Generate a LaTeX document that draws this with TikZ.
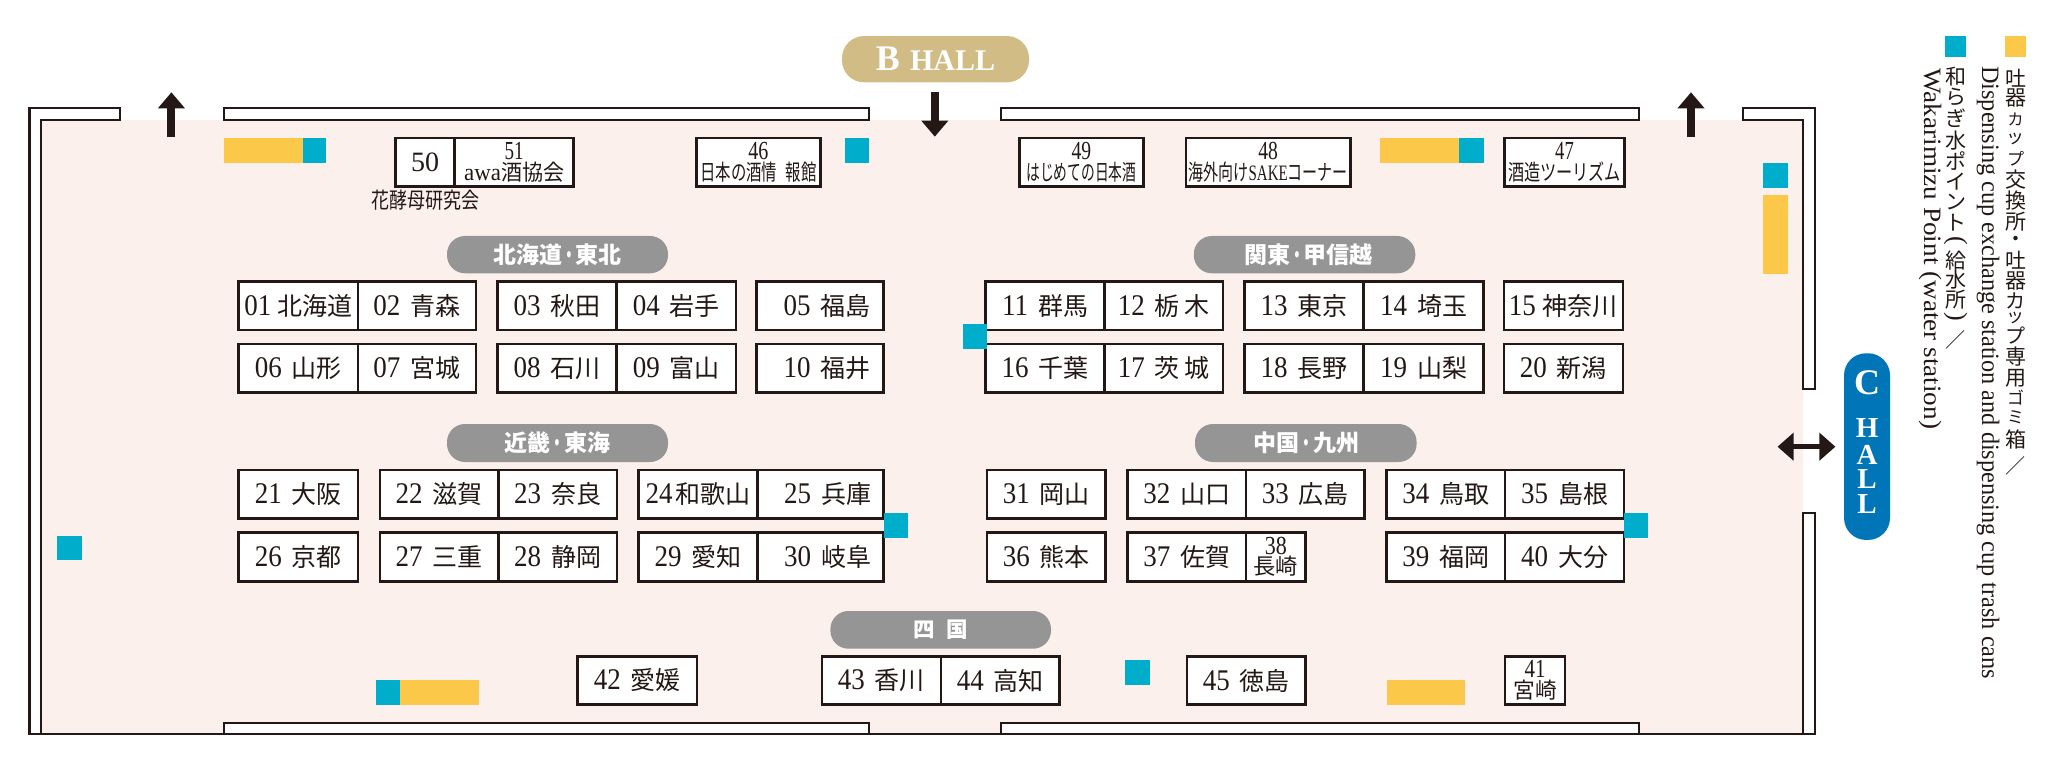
\documentclass[tikz,border=0pt]{standalone}
\usepackage{fontspec}
\usepackage{graphicx}
\usetikzlibrary{arrows.meta}
\setmainfont{Liberation Serif}
\newfontfamily\numfam[FakeStretch=0.9]{Liberation Serif}
\newfontfamily\cjkfam{Noto Sans CJK JP}
\definecolor{ink}{HTML}{231815}
\definecolor{floorpink}{HTML}{FCF0ED}
\definecolor{cupyellow}{HTML}{FCC84A}
\definecolor{waterteal}{HTML}{00AECB}
\definecolor{pillgrey}{HTML}{959595}
\definecolor{hallgold}{HTML}{D2BC85}
\definecolor{hallblue}{HTML}{0075B8}
% fonts
\newcommand\numf{\numfam\fontsize{30}{30}\selectfont}
\newcommand\kanf{\cjkfam\fontsize{25}{25}\selectfont}
\newcommand\numsm{\rmfamily\fontsize{26}{26}\selectfont}
\newcommand\kansm{\cjkfam\fontsize{22}{22}\selectfont}
% fit to a width, height untouched
\newcommand\fw[2]{\resizebox{#1pt}{\height}{#2}}
% one-line booth label
\newcommand\lb[3][10]{{\numf #2}\hspace{#1pt}{\kanf #3}}
% two-line booth label
\newcommand\tl[4]{{\fw{#1}{\numsm #2}}\\{#4}}
% a vertical stack row
\newcommand\vch[3]{\vbox to #1pt{\vss\hbox to 30pt{\hss\fontsize{#2}{#2}\selectfont #3\hss}\vss}}
% booth as node
\newcommand\bx[6]{%
  \pgfmathsetmacro\bw{#4-#2}\pgfmathsetmacro\bh{#5-#3}%
  \node[booth,minimum width=\bw pt,minimum height=\bh pt] (#1) at ({(#2+#4)/2},{(#3+#5)/2}) {#6};}
\newcommand\bxt[6]{%
  \pgfmathsetmacro\bw{#4-#2}\pgfmathsetmacro\bh{#5-#3}%
  \node[booth,boothtwo,minimum width=\bw pt,minimum height=\bh pt] (#1) at ({(#2+#4)/2},{(#3+#5)/2}) {#6};}
\newcommand\pl[6]{%
  \pgfmathsetmacro\bw{#4-#2}\pgfmathsetmacro\bh{#5-#3}%
  \node[regionpill,minimum width=\bw pt,minimum height=\bh pt] (#1) at ({(#2+#4)/2},{(#3+#5)/2}) {#6};}
\newcommand\sq[5]{\fill[#1] (#2,#3) rectangle (#4,#5);}
\newcommand\dotj{\scalebox{0.6}[1]{・}}
% rows
\def\ra{281.7}\def\rb{330}\def\rc{344}\def\rd{392.7}
\def\re{470}\def\rf{518.7}\def\rg{532.7}\def\rh{581.3}
\def\ri{656.3}\def\rj{704.7}\def\rt{138}\def\ru{186.7}
\tikzset{
  booth/.style={draw=ink,fill=white,line width=2.7pt,inner sep=0pt,outer sep=0pt,text=ink,anchor=center},
  boothtwo/.style={align=center,font=\fontsize{20}{20.5}\selectfont},
  wall/.style={draw=ink,line width=2.2pt,fill=white,line join=miter},
  regionpill/.style={fill=pillgrey,rounded corners=18pt,inner sep=0pt,text=white,font=\cjkfam\bfseries\fontsize{23}{23}\selectfont},
  hallarrow/.style={draw=ink,line width=8pt,-{Triangle[length=16pt,width=26pt,fill=ink]}},
  doublearrow/.style={draw=ink,line width=5pt,{Triangle[length=16pt,width=27pt,fill=ink]}-{Triangle[length=16pt,width=27pt,fill=ink]}},
}
\begin{document}
\begin{tikzpicture}[x=1pt,y=-1pt]
\useasboundingbox (0,0) rectangle (2049,775);
% floor
\fill[floorpink] (41,120) rectangle (1803,734);
% walls
\draw[wall] (119.6,120) -- (41,120) -- (41,734.3) -- (29.5,734.3) -- (29.5,108) -- (119.6,108) -- cycle;
\draw[wall] (223.7,108) rectangle (868.8,120);
\draw[wall] (1001.3,108) rectangle (1639.2,120);
\draw[wall] (1743,120) -- (1803,120) -- (1803,389.3) -- (1814.7,389.3) -- (1814.7,108) -- (1743,108) -- cycle;
\draw[wall] (223.7,722.7) rectangle (868.8,734.3);
\draw[wall] (1001.3,722.7) rectangle (1639.2,734.3);
\draw[wall] (1803,513.3) rectangle (1814.7,734.3);
\draw[ink,line width=2.2pt] (29.5,734.3) -- (1814.7,734.3);
% arrows
\coordinate (upLs) at (171.4,136.7); \coordinate (upLe) at (171.4,92.3);
\coordinate (dnMs) at (934.8,91.7);  \coordinate (dnMe) at (934.8,136.7);
\coordinate (upRs) at (1691,136.7);  \coordinate (upRe) at (1691,92.3);
\coordinate (dbl1) at (1777.5,446.7); \coordinate (dbl2) at (1835.4,446.7);
\draw[hallarrow] (upLs) -- (upLe);
\draw[hallarrow] (dnMs) -- (dnMe);
\draw[hallarrow] (upRs) -- (upRe);
\draw[doublearrow] (dbl1) -- (dbl2);
% yellow and teal points
\sq{cupyellow}{223.7}{138}{303}{162.7}\sq{waterteal}{303}{138}{326}{162.7}
\sq{waterteal}{845}{138}{869}{162.7}
\sq{cupyellow}{1380}{138}{1459}{162.7}\sq{waterteal}{1459}{138}{1484}{162.7}
\sq{waterteal}{1763}{163.3}{1787.8}{188.3}
\sq{cupyellow}{1763}{195}{1787.8}{273.7}
\sq{waterteal}{57}{535.7}{81.7}{560}
\sq{waterteal}{376}{680}{400}{705}\sq{cupyellow}{400}{680}{478.6}{705}
\sq{waterteal}{1125}{659.7}{1150.4}{684.7}
\sq{cupyellow}{1386.6}{680}{1465}{705}
% top row
\bx{b50}{395.5}{\rt}{454.5}{\ru}{{\rmfamily\fontsize{28}{28}\selectfont 50}}
\bxt{b51}{454.5}{\rt}{573.7}{\ru}{\tl{19}{51}{}{\fw{100}{{\rmfamily\fontsize{24}{24}\selectfont awa}\kansm 酒協会}}}
\bxt{b46}{696.4}{\rt}{820.5}{\ru}{\tl{20}{46}{}{\fw{116}{\kansm 日本の酒情\hspace{12pt}報館}}}
\bxt{b49}{1019.6}{\rt}{1143.3}{\ru}{\tl{19.6}{49}{}{\fw{110}{\kansm はじめての日本酒}}}
\bxt{b48}{1186}{\rt}{1350.4}{\ru}{\tl{19.6}{48}{}{\fw{159}{\kansm 海外向け{\rmfamily SAKE}コーナー}}}
\bxt{b47}{1504.7}{\rt}{1624.3}{\ru}{\tl{18.6}{47}{}{\fw{113}{\kansm 酒造ツーリズム}}}
\node[text=ink,inner sep=0pt] (hana) at (425.2,200) {\fw{108}{\kansm 花酵母研究会}};
% row 1
\bx{b01}{238.8}{\ra}{358}{\rb}{\lb[6]{01}{北海道}}
\bx{b02}{358}{\ra}{475.9}{\rb}{\lb{02}{青森}}
\bx{b03}{497.8}{\ra}{616.5}{\rb}{\lb{03}{秋田}}
\bx{b04}{616.5}{\ra}{736}{\rb}{\lb{04}{岩手}}
\bx{b05}{756.7}{\ra}{883.5}{\rb}{\hspace*{14pt}\lb{05}{福島}}
\bx{b11}{985.7}{\ra}{1104.5}{\rb}{\lb{11}{群馬}}
\bx{b12}{1104.5}{\ra}{1223}{\rb}{\lb{12}{栃\hspace{5pt}木}}
\bx{b13}{1244.6}{\ra}{1363.8}{\rb}{\lb{13}{東京}}
\bx{b14}{1363.8}{\ra}{1483.2}{\rb}{\lb{14}{埼玉}}
\bx{b15}{1503.9}{\ra}{1623}{\rb}{\lb[7]{15}{神奈川}}
% row 2
\bx{b06}{238.8}{\rc}{358}{\rd}{\lb{06}{山形}}
\bx{b07}{358}{\rc}{475.9}{\rd}{\lb{07}{宮城}}
\bx{b08}{497.8}{\rc}{616.5}{\rd}{\lb{08}{石川}}
\bx{b09}{616.5}{\rc}{736}{\rd}{\lb{09}{富山}}
\bx{b10}{756.7}{\rc}{883.5}{\rd}{\hspace*{14pt}\lb{10}{福井}}
\bx{b16}{985.7}{\rc}{1104.5}{\rd}{\lb{16}{千葉}}
\bx{b17}{1104.5}{\rc}{1223}{\rd}{\lb{17}{茨\hspace{5pt}城}}
\bx{b18}{1244.6}{\rc}{1363.8}{\rd}{\lb{18}{長野}}
\bx{b19}{1363.8}{\rc}{1483.2}{\rd}{\lb{19}{山梨}}
\bx{b20}{1503.9}{\rc}{1623}{\rd}{\lb{20}{新潟}}
% row 3
\bx{b21}{238.8}{\re}{358}{\rf}{\lb{21}{大阪}}
\bx{b22}{380}{\re}{498.2}{\rf}{\lb{22}{滋賀}}
\bx{b23}{498.2}{\re}{617}{\rf}{\lb{23}{奈良}}
\bx{b24}{638.8}{\re}{757.6}{\rf}{\lb[3]{24}{和歌山}}
\bx{b25}{757.6}{\re}{883.5}{\rf}{\hspace*{14pt}\lb{25}{兵庫}}
\bx{b31}{987}{\re}{1105.8}{\rf}{\lb{31}{岡山}}
\bx{b32}{1127.7}{\re}{1246}{\rf}{\lb{32}{山口}}
\bx{b33}{1246}{\re}{1364.7}{\rf}{\lb{33}{広島}}
\bx{b34}{1386.6}{\re}{1505}{\rf}{\lb{34}{鳥取}}
\bx{b35}{1505}{\re}{1624}{\rf}{\lb{35}{島根}}
% row 4
\bx{b26}{238.8}{\rg}{358}{\rh}{\lb{26}{京都}}
\bx{b27}{380}{\rg}{498.2}{\rh}{\lb{27}{三重}}
\bx{b28}{498.2}{\rg}{617}{\rh}{\lb{28}{静岡}}
\bx{b29}{638.8}{\rg}{757.6}{\rh}{\lb{29}{愛知}}
\bx{b30}{757.6}{\rg}{883.5}{\rh}{\hspace*{14pt}\lb{30}{岐阜}}
\bx{b36}{987}{\rg}{1105.8}{\rh}{\lb{36}{熊本}}
\bx{b37}{1127.7}{\rg}{1246}{\rh}{\lb{37}{佐賀}}
\bxt{b38}{1246}{\rg}{1305.8}{\rh}{\tl{22}{38}{}{\fw{44.6}{\kansm 長崎}}}
\bx{b39}{1386.6}{\rg}{1505}{\rh}{\lb{39}{福岡}}
\bx{b40}{1505}{\rg}{1624}{\rh}{\lb{40}{大分}}
% row 5
\bx{b42}{577.7}{\ri}{696.9}{\rj}{\lb{42}{愛媛}}
\bx{b43}{821.9}{\ri}{941}{\rj}{\lb{43}{香川}}
\bx{b44}{941}{\ri}{1059.8}{\rj}{\lb{44}{高知}}
\bx{b45}{1187}{\ri}{1305.8}{\rj}{\lb{45}{徳島}}
\bxt{b41}{1505}{\ri}{1565}{\rj}{\tl{21}{41}{}{\fw{43.5}{\kansm 宮崎}}}
% teal points over booths
\sq{waterteal}{963}{324.3}{987}{349.3}
\sq{waterteal}{883.5}{513.3}{908}{538}
\sq{waterteal}{1624}{513.3}{1647.5}{538}
% region pills
\pl{p1}{447}{236}{668}{273.3}{北海道\dotj 東北}
\pl{p2}{1193.8}{236}{1415.3}{273.3}{\hspace*{8pt}関東\dotj 甲信越}
\pl{p3}{447}{424}{668}{462}{近畿\dotj 東海}
\pl{p4}{1195}{424}{1416.6}{462}{\hspace*{2pt}中国\dotj 九州}
\pl{p5}{830.4}{611}{1051}{648.7}{\fontsize{21.5}{21.5}\selectfont 四\hspace{11pt}国}
% hall labels
\node[fill=hallgold,rounded corners=22pt,minimum width=187pt,minimum height=46.3pt,inner sep=0pt,text=white,font=\rmfamily\bfseries] (hallB) at (935.5,59.2)
  {{\fontsize{36}{36}\selectfont B}\hspace{10pt}{\fontsize{30}{30}\selectfont HALL}};
\node[fill=hallblue,rounded corners=22pt,minimum width=46pt,minimum height=186.7pt,inner sep=0pt,text=white,font=\rmfamily\bfseries] (hallC) at (1867,446.6)
  {\vbox{\offinterlineskip
    \vch{58.7}{36}{C}\vch{31.3}{29}{H}\vch{23.7}{29}{A}\vch{24.5}{29}{L}\vch{25}{29}{L}\vch{23.5}{27}{}}};
% legend
\sq{cupyellow}{2005}{36}{2026}{57.3}
\sq{waterteal}{1945}{36}{1966}{57.3}
\node[anchor=north,inner sep=0pt,text=ink,font=\cjkfam] (leg1) at (2015.5,68)
  {\vbox{\offinterlineskip
    \vch{19.8}{21}{吐}\vch{21}{21}{器}\vch{20.2}{16}{カ}\vch{19}{18}{ッ}\vch{21}{17}{プ}%
    \vch{21}{21}{交}\vch{20.8}{21}{換}\vch{20.9}{21}{所}\vch{19.1}{21}{・}\vch{19.2}{21}{吐}%
    \vch{21.5}{21}{器}\vch{18.5}{20}{カ}\vch{15.8}{18}{ッ}\vch{20}{20}{プ}\vch{21.5}{21}{専}%
    \vch{20.7}{21}{用}\vch{19.3}{17}{ゴ}\vch{20}{17}{ミ}\vch{24.7}{21}{箱}\vch{28}{20}{／}}};
\node[anchor=north,inner sep=0pt,text=ink,font=\cjkfam] (leg3) at (1955.5,67)
  {\vbox{\offinterlineskip
    \vch{19.7}{21}{和}\vch{20.6}{21}{ら}\vch{21.7}{21}{ぎ}\vch{21.8}{21}{水}\vch{20.9}{21}{ポ}%
    \vch{20}{21}{イ}\vch{20}{21}{ン}\vch{20.6}{21}{ト}\vch{19.2}{26}{\rmfamily\rotatebox[origin=c]{-90}{(}}%
    \vch{17.5}{21}{給}\vch{21}{21}{水}\vch{18}{21}{所}\vch{19.5}{26}{\rmfamily\rotatebox[origin=c]{-90}{)}}\vch{24.5}{20}{／}}};
\node[anchor=west,rotate=-90,inner sep=0pt,text=ink,font=\rmfamily\fontsize{25}{25}\selectfont] (leg2) at (1988,66)
  {\fw{613}{Dispensing cup exchange station and dispensing cup trash cans}};
\node[anchor=west,rotate=-90,inner sep=0pt,text=ink,font=\rmfamily\fontsize{25}{25}\selectfont] (leg4) at (1930,68)
  {\fw{361}{Wakarimizu Point (water station)}};
\end{tikzpicture}
\end{document}
